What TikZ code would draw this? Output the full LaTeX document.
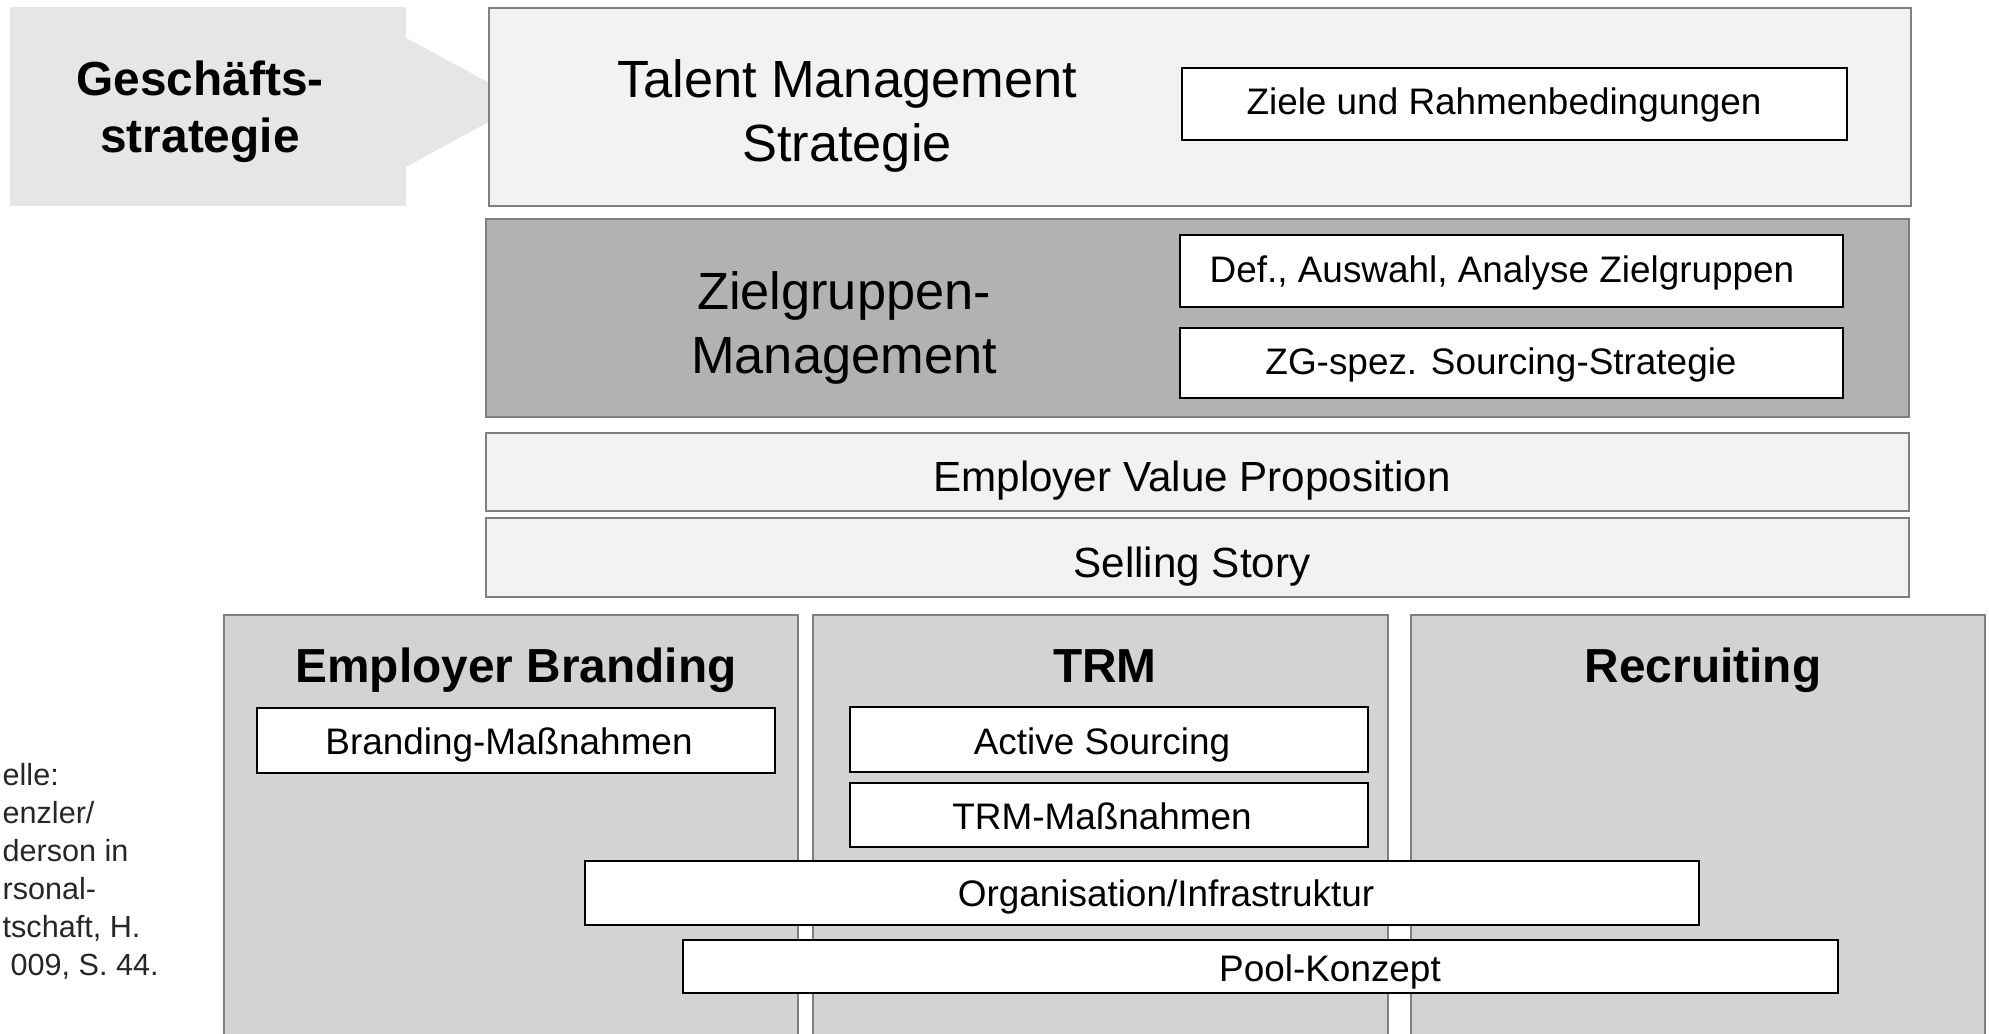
\documentclass[tikz,border=0pt]{standalone}
\usepackage{fontspec}
\setmainfont{Liberation Sans}

\definecolor{rahmen}{HTML}{7F7F7F}
\definecolor{hell}{HTML}{F2F2F2}
\definecolor{mittel}{HTML}{B2B2B2}
\definecolor{spalte}{HTML}{D3D3D3}
\definecolor{pfeil}{HTML}{E6E6E6}

\tikzset{
  ebene/.style={draw=rahmen, line width=0.8pt},
  kasten/.style={draw=black, fill=white, line width=0.8pt},
  gross/.style={anchor=base, align=center, inner sep=0pt, font=\fontsize{14.9}{18.3}\selectfont},
  klein/.style={anchor=base, inner sep=0pt, font=\fontsize{10.5}{12.6}\selectfont},
  mittelschrift/.style={anchor=base, inner sep=0pt, font=\fontsize{12}{14.4}\selectfont},
  titel/.style={anchor=base, align=center, inner sep=0pt, font=\bfseries\fontsize{13.6}{16.4}\selectfont},
  quelle/.style={anchor=base west, align=left, inner sep=0pt, text=black!85, font=\fontsize{8.7}{10.8}\selectfont},
}

\begin{document}
\begin{tikzpicture}

			\useasboundingbox (0,0) rectangle (19.89,-10.34);
			\clip (0,0) rectangle (19.89,-10.34);

			% Geschäftsstrategie mit Pfeil nach rechts
			\fill[pfeil] (4.06,-0.38) -- (5.25,-1.02) -- (4.06,-1.67) -- cycle;
			\fill[pfeil] (0.10,-0.07) rectangle (4.06,-2.06);
			\node[titel] (gs) at (2.00,-1.53) {Geschäfts-\\strategie};

			% Talent Management Strategie
			\draw[ebene, fill=hell] (4.89,-0.08) rectangle (19.11,-2.06);
			\node[gross] (tms) at (8.47,-1.62) {Talent Management\\Strategie};
			\draw[kasten] (11.82,-0.68) rectangle (18.47,-1.40);
			\node[klein] (ziele) at (15.04,-1.15) {Ziele und Rahmenbedingungen};

			% Zielgruppen-Management
			\draw[ebene, fill=mittel] (4.86,-2.19) rectangle (19.09,-4.17);
			\node[gross] (zgm) at (8.44,-3.74) {Zielgruppen-\\Management};
			\draw[kasten] (11.80,-2.35) rectangle (18.43,-3.07);
			\node[klein] (def) at (15.02,-2.83) {Def., Auswahl, Analyse Zielgruppen};
			\draw[kasten] (11.80,-3.28) rectangle (18.43,-3.98);
			\node[klein] (sourcing) at (15.01,-3.75) {ZG-spez. Sourcing-Strategie};

			% EVP und Selling Story
			\draw[ebene, fill=hell] (4.86,-4.33) rectangle (19.09,-5.11);
			\node[mittelschrift] (evp) at (11.92,-4.92) {Employer Value Proposition};
			\draw[ebene, fill=hell] (4.86,-5.18) rectangle (19.09,-5.97);
			\node[mittelschrift] (story) at (11.92,-5.77) {Selling Story};

			% drei Säulen
			\draw[ebene, fill=spalte] (2.24,-6.15) rectangle (7.98,-10.60);
			\draw[ebene, fill=spalte] (8.13,-6.15) rectangle (13.88,-10.60);
			\draw[ebene, fill=spalte] (14.11,-6.15) rectangle (19.85,-10.60);
			\node[titel] (eb) at (5.16,-6.82) {Employer Branding};
			\node[titel] (trm) at (11.05,-6.82) {TRM};
			\node[titel] (rec) at (17.03,-6.82) {Recruiting};

			% Maßnahmen in den Säulen
			\draw[kasten] (2.57,-7.08) rectangle (7.75,-7.73);
			\node[klein] (bm) at (5.09,-7.54) {Branding-Maßnahmen};
			\draw[kasten] (8.50,-7.07) rectangle (13.68,-7.72);
			\node[klein] (as) at (11.02,-7.54) {Active Sourcing};
			\draw[kasten] (8.50,-7.83) rectangle (13.68,-8.47);
			\node[klein] (tm) at (11.02,-8.29) {TRM-Maßnahmen};

			% übergreifende Balken
			\draw[kasten] (5.85,-8.61) rectangle (16.99,-9.25);
			\node[klein] (org) at (11.66,-9.06) {Organisation/Infrastruktur};
			\draw[kasten] (6.83,-9.40) rectangle (18.38,-9.93);
			\node[klein] (pool) at (13.30,-9.81) {Pool-Konzept};

			% Quellenangabe (links angeschnitten)
			\node[quelle] (quelle) at (0.02,-9.75) {elle:\\enzler/\\derson in\\rsonal-\\tschaft, H.\\\hspace{0.08cm}009, S. 44.};

		\end{tikzpicture}
\end{document}
